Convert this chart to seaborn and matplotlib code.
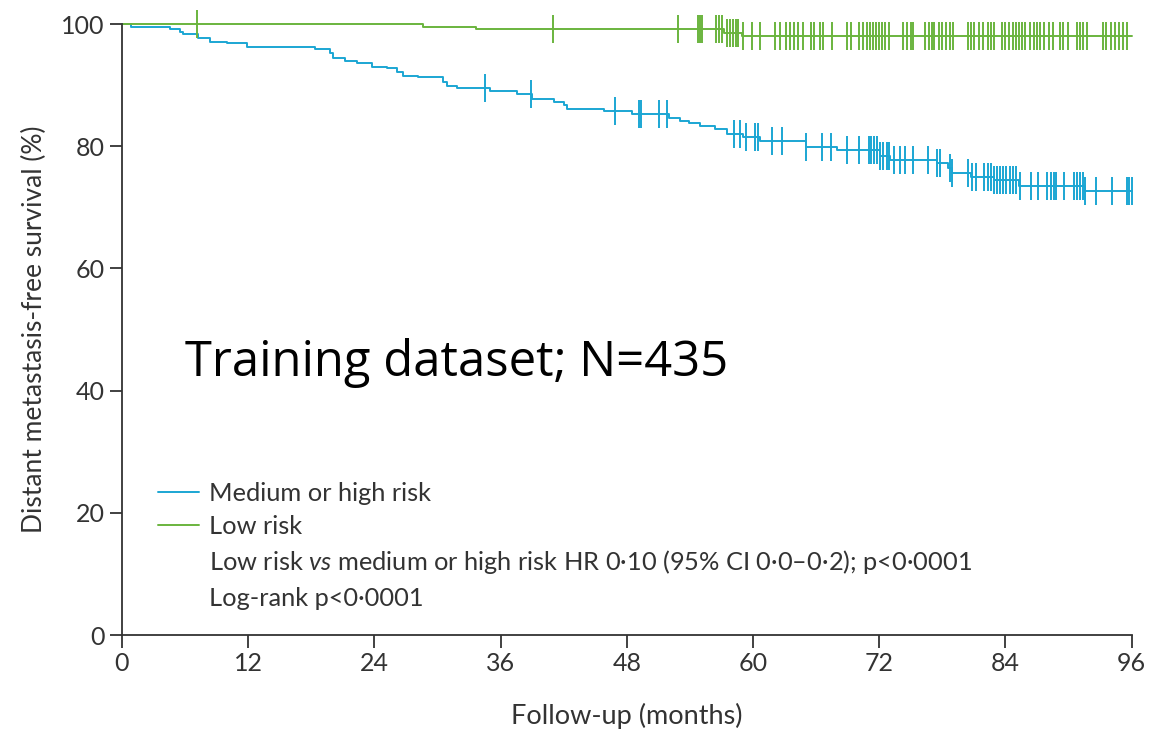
import numpy as np
import pandas as pd
import seaborn as sns
import matplotlib.pyplot as plt
from matplotlib.lines import Line2D

# Curvas de Kaplan-Meier (tempo em meses, sobrevida em %)
tempo_alto = [0, 0.9, 4.57, 5.52, 5.83, 7.26, 8.37, 9.96, 11.86, 18.36, 19.79, 20.1,
              21.2, 22.33, 23.76, 25.18, 26.14, 26.77, 28.19, 30.57, 30.89, 31.84,
              35.0, 37.55, 38.98, 41.04, 42.0, 42.3, 45.8, 48.5, 52.0, 53.1, 53.9,
              55.0, 56.4, 57.5, 59.1, 60.7, 65.0, 68.0, 72.1, 73.0, 77.5, 78.5,
              78.9, 80.7, 82.9, 85.3, 91.6, 96]
surv_alto = [100, 99.56, 99.13, 98.75, 98.31, 97.65, 97.11, 96.84, 96.29, 95.91, 95.2, 94.49,
             93.94, 93.67, 93.02, 92.75, 92.2, 91.49, 91.27, 90.56, 89.85, 89.53,
             89.03, 88.49, 87.67, 87.29, 86.74, 86.03, 85.76, 85.21, 84.56, 84.17, 83.74,
             83.36, 82.76, 82.0, 81.45, 80.9, 79.9, 79.38, 78.4, 77.7, 77.2, 76.4,
             75.7, 75.0, 74.47, 73.5, 72.67, 72.67]

tempo_baixo = [0, 28.67, 33.7, 57.2, 59.0, 96]
surv_baixo = [100, 99.56, 99.13, 98.58, 98.04, 98.04]

# Tempos de censura (marcas verticais)
cens_alto = [34.5, 38.9, 46.9, 49.2, 49.4, 51.1, 51.8, 58.2, 58.8, 59.3, 60.2, 60.5, 61.8,
             62.8, 65.0, 66.6, 67.4, 68.9, 70.1, 71.0, 71.2, 71.5, 71.8, 72.1, 72.4, 72.7,
             72.9, 73.4, 74.0, 74.5, 75.2, 76.6, 77.5, 77.8, 78.7, 78.9, 80.4, 80.8, 81.2,
             82.0, 82.3, 82.6, 82.9, 83.2, 83.5, 83.8, 84.1, 84.4, 84.7, 85.0, 85.4, 86.4,
             87.1, 88.0, 88.3, 88.6, 88.8, 89.6, 90.5, 90.8, 91.1, 91.4, 91.6, 92.6, 94.1,
             95.6, 95.8, 96.0]
cens_baixo = [7.1, 41.0, 52.9, 54.8, 55.0, 55.2, 56.5, 56.8, 57.1, 57.5, 57.8, 58.1, 58.4,
              58.6, 59.1, 59.9, 60.7, 62.1, 62.6, 63.1, 63.5, 63.9, 64.3, 64.8, 65.5, 65.8,
              66.4, 66.7, 67.5, 68.9, 69.3, 70.1, 70.5, 70.8, 71.1, 71.4, 71.7, 72.0, 72.3,
              72.6, 72.9, 74.3, 74.6, 75.0, 75.2, 76.4, 76.7, 77.0, 77.2, 77.7, 78.0, 78.4,
              78.7, 79.0, 80.4, 80.7, 81.0, 81.5, 81.9, 82.3, 82.6, 82.9, 83.7, 84.0, 84.3,
              84.7, 85.0, 85.3, 85.6, 85.9, 86.3, 86.7, 87.0, 87.3, 87.7, 88.1, 88.5, 89.2,
              89.5, 90.0, 90.8, 91.1, 91.4, 91.8, 93.3, 93.6, 94.0, 94.4, 94.8, 95.2, 95.6]

xticks = [0, 12, 24, 36, 48, 60, 72, 84, 96]
yticks = [0, 20, 40, 60, 80, 100]

azul = '#1ba6d3'
verde = '#6ab43e'
cinza = '#333333'

sns.set_style('ticks')
plt.rcParams['font.family'] = ['Lato', 'DejaVu Sans']
plt.rcParams['mathtext.fontset'] = 'custom'
plt.rcParams['mathtext.it'] = 'Lato:italic'
plt.rcParams['mathtext.rm'] = 'Lato'


def surv_em(tempos, survs, t):
    # valor da curva em degrau no tempo t
    idx = np.searchsorted(tempos, t, side='right') - 1
    return np.array(survs)[idx]


fig = plt.figure(figsize=(11.5, 7.3), dpi=100)
ax = fig.add_axes([0.106, 0.130, 0.878, 0.837])

sns.lineplot(x=tempo_alto, y=surv_alto, drawstyle='steps-post', color=azul,
             linewidth=1.4, ax=ax, clip_on=False)
sns.lineplot(x=tempo_baixo, y=surv_baixo, drawstyle='steps-post', color=verde,
             linewidth=1.4, ax=ax, clip_on=False)

ax.plot(cens_alto, surv_em(tempo_alto, surv_alto, cens_alto), ls='none', marker='|',
        markersize=20, markeredgewidth=1.4, color=azul, clip_on=False)
ax.plot(cens_baixo, surv_em(tempo_baixo, surv_baixo, cens_baixo), ls='none', marker='|',
        markersize=20, markeredgewidth=1.4, color=verde, clip_on=False)

ax.set_xlim(0, 96)
ax.set_ylim(0, 100)
ax.set_xticks(xticks)
ax.set_yticks(yticks)
ax.tick_params(axis='both', length=9, width=1.3, color=cinza, labelcolor=cinza,
               labelsize=18)
for lado in ['left', 'bottom']:
    ax.spines[lado].set_color(cinza)
    ax.spines[lado].set_linewidth(1.3)
sns.despine(ax=ax)

ax.set_xlabel('Follow-up (months)', fontsize=19.5, color=cinza, labelpad=20)
ax.set_ylabel('Distant metastasis-free survival (%)', fontsize=19, color=cinza, labelpad=10)

ax.text(0.062, 0.445, 'Training dataset; N=435', transform=ax.transAxes,
        fontsize=35.3, color='black', family=['Open Sans', 'DejaVu Sans'], va='center')

handles = [Line2D([], [], color=azul, lw=1.4), Line2D([], [], color=verde, lw=1.4),
           Line2D([], [], color='none'), Line2D([], [], color='none')]
labels = ['Medium or high risk', 'Low risk',
          'Low risk $\\mathit{vs}$ medium or high risk HR 0·10 (95% CI 0·0–0·2); p<0·0001',
          'Log-rank p<0·0001']
leg = ax.legend(handles, labels, loc='upper left', bbox_to_anchor=(0.026, 0.267),
                frameon=False, fontsize=18.3, handlelength=1.6, handletextpad=0.4,
                labelspacing=0.4, borderaxespad=0)
for t in leg.get_texts():
    t.set_color(cinza)

plt.savefig('out.png', dpi=100)
